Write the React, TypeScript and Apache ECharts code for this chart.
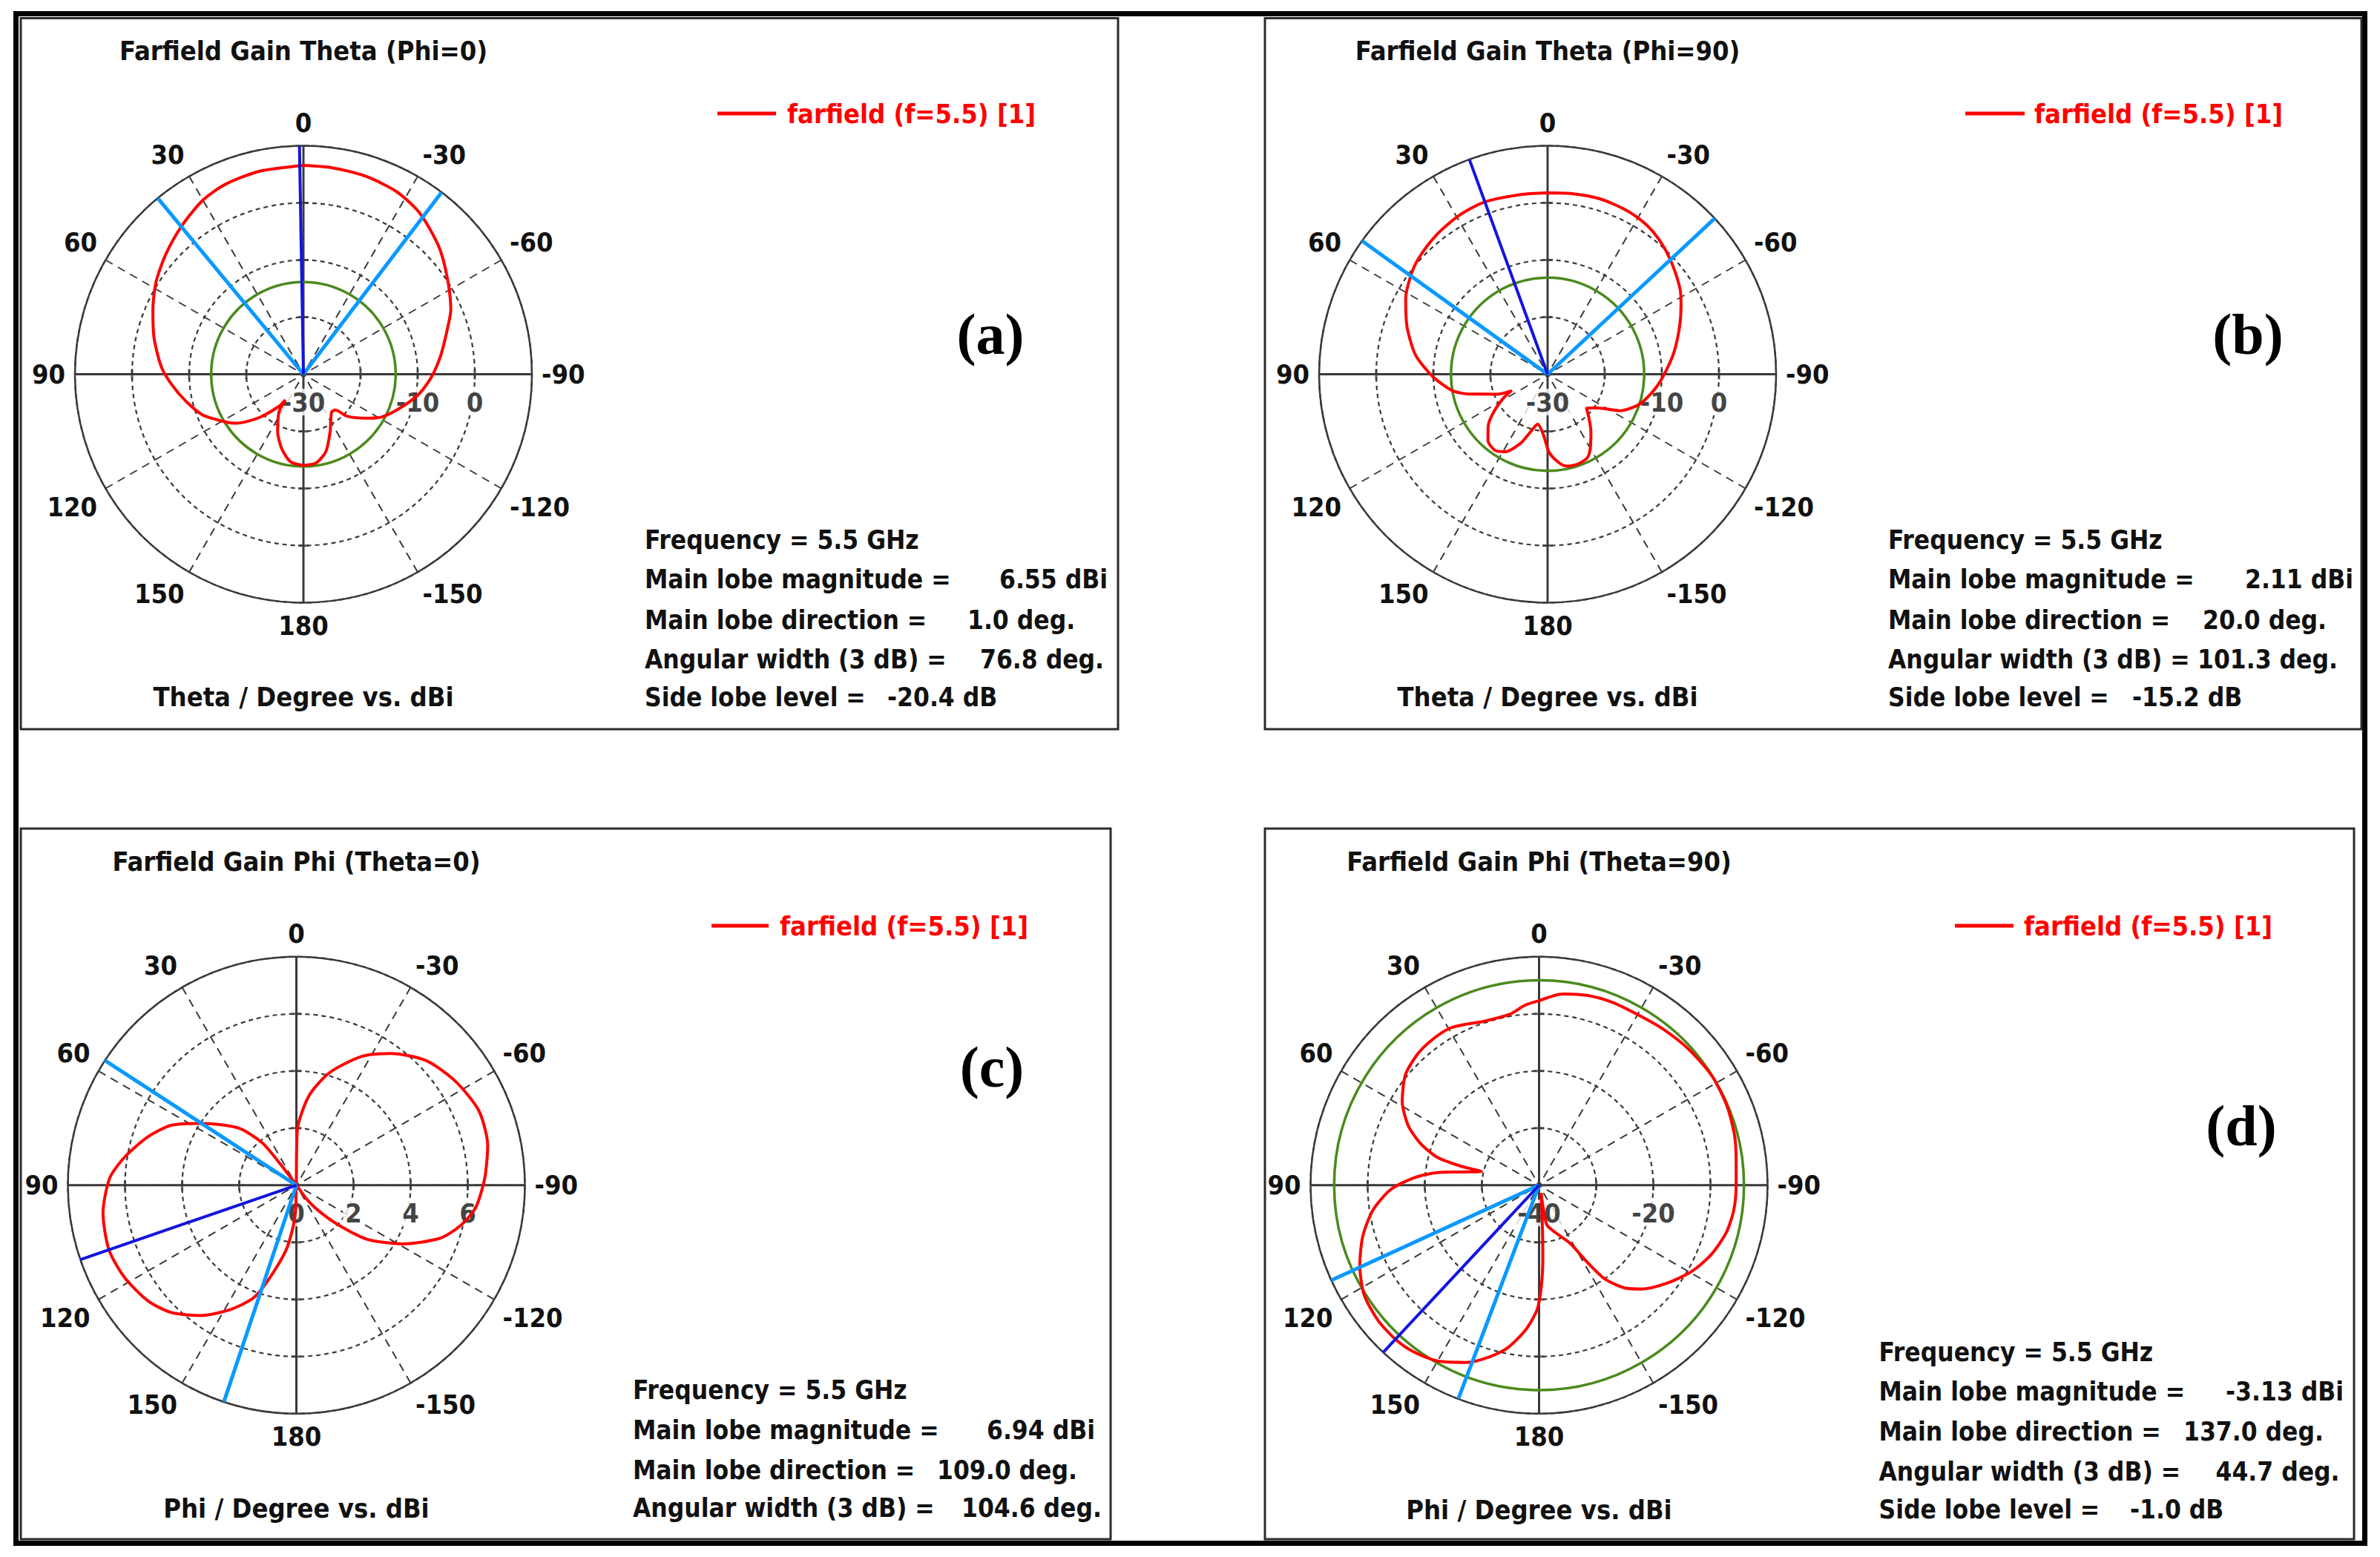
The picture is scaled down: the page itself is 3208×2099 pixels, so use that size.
import React, { useEffect, useRef } from "react";
import * as echarts from "echarts";

const FONT = '"DejaVu Sans Condensed", "DejaVu Sans", sans-serif';
const SERIF = '"Liberation Serif", "DejaVu Serif", serif';
const RED = "#ff0000";
const GREEN = "#4a8a1c";
const LBLUE = "#0a99ff";
const DBLUE = "#1414e0";
const GRID = "#3a3a3a";
const TXT = "#111111";

// ---------- Panel (a): Farfield Gain Theta (Phi=0) ----------
const A_ANGLE = [0, 12.3, 22.3, 30, 39.3, 48.7, 57.9, 66.9, 76.4, 86.9, 94.1, 102.6, 111.9, 121.3, 126.2, 134.4, 142.7, 144.9, 147.1, 155.9, 163.9, 171.5, 180, -172, -163.9, -155.2, -143.3, -138.3, -133.9, -124.7, -118.9, -110.2, -100.2, -91.7, -82.1, -71.8, -66.4, -57.3, -47.9, -40.1, -34.5, -26.9, -17.5, -8, 0];
const A_GAIN = [6.55, 6.35, 5.95, 5.2, 3.6, 2.0, 0.45, -1.35, -3.1, -5.07, -6.78, -8.82, -10.94, -13.95, -15.46, -19.14, -22.94, -24.5, -22.13, -18.94, -16.39, -14.53, -14.05, -14.3, -15.88, -18.88, -21.76, -21.6, -19.39, -16.46, -14.45, -12.31, -9.6, -7.68, -5.72, -3.38, -1.85, 0.06, 2.3, 3.9, 5.0, 5.9, 6.35, 6.5, 6.55];
const A_MAIN = 1.0;
const A_BEAM = [39.6, -37.2];
const A_GREEN = -13.85;
const A_RLABELS = [-30, -10, 0];
const A_INFO = ["6.55 dBi", "1.0 deg.", "76.8 deg.", "-20.4 dB"];

// ---------- Panel (b): Farfield Gain Theta (Phi=90) ----------
const B_ANGLE = [0, 8.5, 20.3, 29.5, 39, 48.2, 54.3, 61.9, 71.4, 81.8, 91.1, 99.8, 104.3, 111.8, 114.5, 118.2, 125, 131.1, 138, 145.4, 151.2, 158.6, 163.5, 168.8, 176, -179, -173.5, -168.6, -161.7, -154.6, -150.3, -143, -136.5, -131.2, -124.2, -116.7, -110, -104.3, -96.4, -89, -80.2, -70.2, -62.3, -56.6, -46.9, -39.6, -33, -25.3, -16.6, -7.6, 0];
const B_GAIN = [1.75, 1.8, 2.11, 1.8, 1.16, 0.34, -0.5, -1.84, -4.04, -6.66, -9.87, -13.1, -15.9, -20.6, -23.1, -21.3, -18.5, -16.2, -14.4, -13.8, -14.5, -17.0, -19.5, -21.1, -19.4, -16.4, -14.6, -13.6, -13.4, -13.8, -14.95, -17.4, -19.5, -20.95, -19.5, -15.8, -13.6, -12.3, -10.75, -9.38, -7.56, -5.45, -3.61, -2.31, -0.6, 0.6, 1.4, 1.85, 2.05, 1.9, 1.75];
const B_MAIN = 20.0;
const B_BEAM = [54.3, -47.0];
const B_GREEN = -13.09;
const B_RLABELS = [-30, -10, 0];
const B_INFO = ["2.11 dBi", "20.0 deg.", "101.3 deg.", "-15.2 dB"];

// ---------- Panel (c): Farfield Gain Phi (Theta=0) ----------
const C_ANGLE = [35, 37.2, 38.9, 45.3, 56.7, 64.4, 72, 80.8, 87.8, 98.2, 109, 118.2, 127.9, 135.5, 143.7, 151.9, 159.1, 163.4, 170.7, 175.3, 178.5, 180, -143.7, -139.3, -133.4, -127.3, -118.9, -110.1, -103.5, -97, -87.8, -78.3, -67.7, -56.8, -46.2, -35.7, -26.9, -16.4, -8, -0.9, 0];
const C_GAIN = [0, 0.97, 1.91, 2.84, 3.94, 4.86, 5.47, 6.1, 6.54, 6.84, 6.94, 6.83, 6.59, 6.25, 5.66, 4.94, 4.23, 3.48, 2.34, 1.49, 0.77, 0, 0.57, 1.15, 2.02, 3.13, 4.25, 5.38, 5.94, 6.33, 6.6, 6.84, 6.9, 6.65, 6.3, 5.68, 5.06, 4.11, 3.16, 1.9, 0];
const C_MAIN = 109.0;
const C_BEAM = [56.9, 161.5];
const C_GREEN: number | null = null;
const C_RLABELS = [0, 2, 4, 6];
const C_INFO = ["6.94 dBi", "109.0 deg.", "104.6 deg."];

// ---------- Panel (d): Farfield Gain Phi (Theta=90) ----------
const D_ANGLE = [0, 4.4, 9.4, 18.5, 24.2, 29.8, 36.6, 43.1, 50.6, 58.6, 65.4, 70.4, 74.7, 76.3, 76.6, 80.4, 82.9, 86.6, 91.7, 98.5, 106.2, 114.2, 122.1, 129.9, 137, 143.2, 150, 157.8, 164.1, 169.1, 174.6, 179.1, -178.7, -177, -175.5, -165, -169, -160.8, -151.8, -147.9, -144.9, -140.2, -135.2, -127.5, -119.4, -111.9, -104.2, -97.5, -90.2, -83.9, -76, -67.2, -57.7, -47.8, -38.3, -29.9, -21.9, -14.4, -7.1, 0];
const D_GAIN = [-7.7, -8.37, -9.59, -9.72, -9.08, -8.37, -8.4, -8.73, -9.68, -11.94, -14.78, -17.84, -21.55, -25.9, -29.6, -26.1, -22.07, -18.07, -13.99, -10.6, -7.85, -5.6, -3.85, -3.2, -3.13, -3.5, -4.46, -6.49, -8.8, -11.02, -14.5, -18.2, -22.3, -27.4, -32.5, -38.6, -33.0, -31.2, -28.4, -24.0, -19.9, -16.6, -14.4, -11.8, -9.3, -7.5, -6.2, -5.65, -5.5, -5.3, -4.7, -4.3, -4.2, -4.6, -5.1, -5.5, -5.5, -5.7, -6.25, -7.7];
const D_MAIN = 137.0;
const D_BEAM = [114.6, 159.3];
const D_GREEN = -4.13;
const D_RLABELS = [-40, -20];
const D_INFO = ["-3.13 dBi", "137.0 deg.", "44.7 deg.", "-1.0 dB"];

// radial axis ranges [min, max, interval]
const A_RANGE = [-30, 10, 10];
const B_RANGE = [-30, 10, 10];
const C_RANGE = [0, 8, 2];
const D_RANGE = [-40, 0, 10];

const TITLES = [
  "Farfield Gain Theta (Phi=0)",
  "Farfield Gain Theta (Phi=90)",
  "Farfield Gain Phi (Theta=0)",
  "Farfield Gain Phi (Theta=90)",
];
const AXIS_TITLES = ["Theta / Degree vs. dBi", "Theta / Degree vs. dBi", "Phi / Degree vs. dBi", "Phi / Degree vs. dBi"];
const LETTERS = ["(a)", "(b)", "(c)", "(d)"];
const LEGEND_TEXT = "farfield (f=5.5) [1]";
const FREQ_TEXT = "Frequency = 5.5 GHz";
const INFO_LABELS = ["Main lobe magnitude =", "Main lobe direction =", "Angular width (3 dB) =", "Side lobe level ="];

const PANELS = [
  { angles: A_ANGLE, gains: A_GAIN, main: A_MAIN, beam: A_BEAM, green: A_GREEN, rlabels: A_RLABELS, info: A_INFO, range: A_RANGE },
  { angles: B_ANGLE, gains: B_GAIN, main: B_MAIN, beam: B_BEAM, green: B_GREEN, rlabels: B_RLABELS, info: B_INFO, range: B_RANGE },
  { angles: C_ANGLE, gains: C_GAIN, main: C_MAIN, beam: C_BEAM, green: C_GREEN, rlabels: C_RLABELS, info: C_INFO, range: C_RANGE },
  { angles: D_ANGLE, gains: D_GAIN, main: D_MAIN, beam: D_BEAM, green: D_GREEN, rlabels: D_RLABELS, info: D_INFO, range: D_RANGE },
];

// ---------- layout (pixels) ----------
const RADIUS = 308;
const LAYOUT = [
  { cx: 409, cy: 504.5, frame: [28, 24.5, 1479, 958.5], titleY: 68, legX: [967, 1046], legTextX: 1061, legY: 153, letter: [1335, 450], infoX: 869, infoY: [728, 781, 835.5, 888.5, 939.5], valX: [1347, 1304, 1321, 1196], axisTitleY: 939.5 },
  { cx: 2086, cy: 504.5, frame: [1705, 24.5, 1478, 958.5], titleY: 68, legX: [2649, 2729], legTextX: 2742, legY: 153, letter: [3030, 450], infoX: 2545, infoY: [728, 781, 835.5, 888.5, 939.5], valX: [3026, 2969, 2962, 2874], axisTitleY: 939.5 },
  { cx: 399.5, cy: 1597.8, frame: [28, 1117, 1469, 958], titleY: 1161, legX: [959, 1036], legTextX: 1051, legY: 1248, letter: [1337, 1438], infoX: 853, infoY: [1874, 1928, 1982, 2033], valX: [1330, 1263, 1296], axisTitleY: 2033 },
  { cx: 2074.5, cy: 1597.8, frame: [1705, 1117, 1468, 958], titleY: 1161, legX: [2635, 2714], legTextX: 2728, legY: 1248, letter: [3021, 1517], infoX: 2532.5, infoY: [1822.5, 1876, 1930, 1984, 2035], valX: [3000, 2943, 2986.5, 2871], axisTitleY: 2035 },
];

const to360 = (a: number) => (a < 0 ? a + 360 : a);

function textEl(text: string, x: number, y: number, align: string, extra: any = {}) {
  return {
    type: "text",
    x,
    y,
    silent: true,
    style: {
      text,
      fill: TXT,
      fontSize: 36,
      fontWeight: "bold",
      fontFamily: FONT,
      align,
      verticalAlign: "middle",
      ...extra,
    },
  };
}

function buildOption() {
  const polar: any[] = [];
  const angleAxis: any[] = [];
  const radiusAxis: any[] = [];
  const series: any[] = [];
  const graphic: any[] = [];

  graphic.push({
    type: "rect",
    silent: true,
    shape: { x: 21.5, y: 18.5, width: 3166, height: 2062 },
    style: { fill: "none", stroke: "#000", lineWidth: 7 },
  });

  PANELS.forEach((p, i) => {
    const L = LAYOUT[i];
    const [rmin, rmax, step] = p.range;
    polar.push({ center: [L.cx, L.cy], radius: RADIUS });
    angleAxis.push({
      polarIndex: i,
      type: "value",
      min: 0,
      max: 360,
      interval: 30,
      startAngle: 90,
      clockwise: false,
      axisLine: { show: true, lineStyle: { color: GRID, width: 2.5 } },
      axisTick: { show: false },
      axisLabel: {
        show: true,
        margin: 13,
        fontSize: 36,
        fontWeight: "bold",
        fontFamily: FONT,
        color: TXT,
        formatter: (v: number) => String(v > 180 ? v - 360 : v),
      },
      splitLine: { show: true, lineStyle: { color: GRID, width: 2, type: [11, 8] } },
    });
    radiusAxis.push({
      polarIndex: i,
      type: "value",
      min: rmin,
      max: rmax,
      interval: step,
      axisLine: { show: false },
      axisTick: { show: false },
      axisLabel: { show: false },
      splitLine: { show: true, lineStyle: { color: GRID, width: 2.2, type: [6, 5] } },
    });

    const base = { coordinateSystem: "polar", polarIndex: i, silent: true, animation: false };
    // solid cross axes
    series.push({ ...base, type: "line", data: [[rmax, 0], [rmax, 180]], symbol: "none", clip: false, lineStyle: { color: GRID, width: 3 }, z: 1 });
    series.push({ ...base, type: "line", data: [[rmax, 90], [rmax, 270]], symbol: "none", clip: false, lineStyle: { color: GRID, width: 3 }, z: 1 });
    // small ticks where rings cross the axes
    const rings: number[] = [];
    for (let v = rmin + step; v < rmax - 1e-9; v += step) rings.push(v);
    series.push({ ...base, type: "scatter", data: rings.flatMap((v) => [[v, 90], [v, 270]]), symbol: "rect", symbolSize: [3, 14], itemStyle: { color: GRID }, z: 1 });
    series.push({ ...base, type: "scatter", data: rings.flatMap((v) => [[v, 0], [v, 180]]), symbol: "rect", symbolSize: [14, 3], itemStyle: { color: GRID }, z: 1 });
    // radial tick labels
    series.push({
      ...base,
      type: "scatter",
      data: p.rlabels.map((v) => [v, 270]),
      symbolSize: 1,
      itemStyle: { color: "rgba(0,0,0,0)" },
      label: {
        show: true,
        position: "bottom",
        distance: 19,
        formatter: (q: any) => String(q.value[0]),
        fontSize: 36,
        fontWeight: "bold",
        fontFamily: FONT,
        color: TXT,
        backgroundColor: "#ffffff",
        padding: [0, 3],
      },
      z: 2,
    });
    // green side-lobe level circle
    if (p.green !== null) {
      const g = p.green as number;
      series.push({
        ...base,
        type: "custom",
        data: [[g, 0]],
        z: 3,
        renderItem: (params: any, api: any) => {
          const cs = params.coordSys;
          const pt = api.coord([g, 0]);
          const rr = Math.hypot(pt[0] - cs.cx, pt[1] - cs.cy);
          return {
            type: "circle",
            shape: { cx: cs.cx, cy: cs.cy, r: rr },
            style: { fill: "none", stroke: GREEN, lineWidth: 3.5 },
          };
        },
      });
    }
    // red farfield curve
    series.push({
      ...base,
      type: "line",
      name: LEGEND_TEXT,
      data: p.angles.map((a, k) => [p.gains[k], to360(a)]),
      symbol: "none",
      smooth: 0.25,
      clip: false,
      lineStyle: { color: RED, width: 4 },
      z: 4,
    });
    // 3 dB beam edges
    p.beam.forEach((a) => {
      series.push({ ...base, type: "line", data: [[rmin, to360(a)], [rmax, to360(a)]], symbol: "none", clip: false, lineStyle: { color: LBLUE, width: 5 }, z: 5 });
    });
    // main lobe direction
    series.push({ ...base, type: "line", data: [[rmin, to360(p.main)], [rmax, to360(p.main)]], symbol: "none", clip: false, lineStyle: { color: DBLUE, width: 4 }, z: 6 });

    // ----- graphics -----
    const [fx, fy, fw, fh] = L.frame;
    graphic.push({ type: "rect", silent: true, shape: { x: fx, y: fy, width: fw, height: fh }, style: { fill: "none", stroke: "#2b2b2b", lineWidth: 3 } });
    graphic.push(textEl(TITLES[i], L.cx, L.titleY, "center"));
    graphic.push({ type: "line", silent: true, shape: { x1: L.legX[0], y1: L.legY, x2: L.legX[1], y2: L.legY }, style: { stroke: RED, lineWidth: 5 } });
    graphic.push(textEl(LEGEND_TEXT, L.legTextX, L.legY, "left", { fill: RED }));
    graphic.push(textEl(LETTERS[i], L.letter[0], L.letter[1], "center", { fontFamily: SERIF, fontSize: 78, fill: "#000" }));
    graphic.push(textEl(AXIS_TITLES[i], L.cx, L.axisTitleY, "center"));
    graphic.push(textEl(FREQ_TEXT, L.infoX, L.infoY[0], "left", { fontSize: 35 }));
    p.info.forEach((val, k) => {
      graphic.push(textEl(INFO_LABELS[k], L.infoX, L.infoY[k + 1], "left", { fontSize: 35 }));
      graphic.push(textEl(val, L.valX[k], L.infoY[k + 1], "left", { fontSize: 35 }));
    });
  });

  return {
    animation: false,
    backgroundColor: "#ffffff",
    polar,
    angleAxis,
    radiusAxis,
    series,
    graphic: { elements: graphic },
  };
}

export default function App() {
  const ref = useRef<HTMLDivElement>(null);
  useEffect(() => {
    if (!ref.current) return;
    const chart = echarts.init(ref.current, undefined, { renderer: "svg" });
    chart.setOption(buildOption() as any);
    return () => chart.dispose();
  }, []);
  return (
    <div
      ref={ref}
      style={{ position: "fixed", left: 0, top: 0, width: "3208px", height: "2099px", background: "#fff" }}
    />
  );
}
